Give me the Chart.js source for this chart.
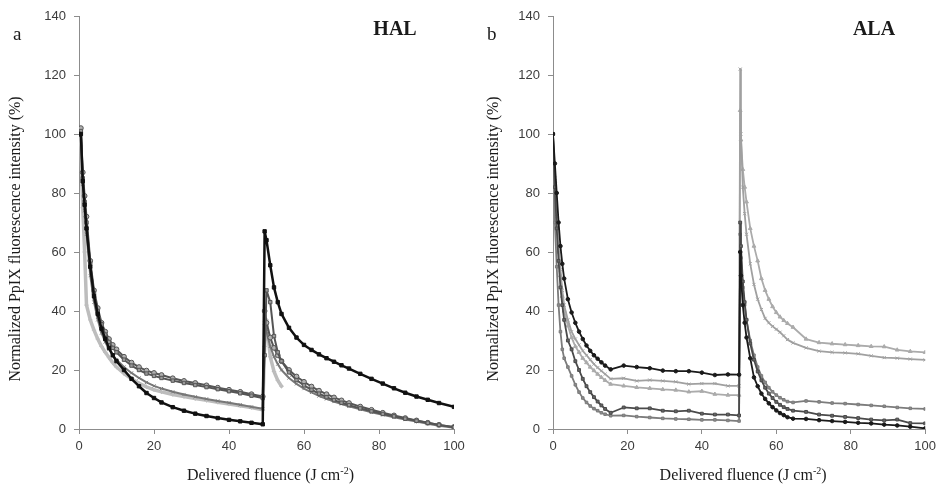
<!DOCTYPE html>
<html>
<head>
<meta charset="utf-8">
<script src="https://cdn.jsdelivr.net/npm/chart.js@4.4.1/dist/chart.umd.min.js"></script>
<style>
  body { margin:0; background:#fff; }
  #wrap { position:relative; width:941px; height:484px; }
  canvas { position:absolute; top:0; }
</style>
</head>
<body>
<div id="wrap">
  <canvas id="hal" width="470" height="484" style="left:0"></canvas>
  <canvas id="ala" width="471" height="484" style="left:470px"></canvas>
</div>
<script>
// ---- axis ticks ----
const xTickValues = [0, 20, 40, 60, 80, 100];
const yTickValues = [0, 20, 40, 60, 80, 100, 120, 140];

// ---- panel a : HAL (fluence in J cm-2, normalized PpIX %) ----
const halFluence = [0,0.5,1,1.5,2,3,4,5,6,7,8,9,10,12,14,16,18,20,22,25,28,31,34,37,40,43,46,49,
  49.5,50,51,52,53,54,56,58,60,62,64,66,68,70,72,75,78,81,84,87,90,93,96,100];
const halBlack = [100,100,84,76,68,55,45,39,34,30.5,27.5,25,23,20,17,14.5,12.2,10.5,9,7.4,6.2,5.2,4.4,3.7,3.1,2.6,2.1,1.6,
  67,64,55.5,48,43,39,34.3,31,28.5,26.8,25.3,24,22.8,21.6,20.5,18.7,17,15.4,13.8,12.3,11,9.9,8.8,7.5];
const halCircles = [100,102,87,79,72,57,47,41,36,33,30.5,28.5,27,24.5,22.5,21,19.8,19,18.3,17.2,16.3,15.6,14.8,14,13.3,12.6,11.8,11,
  40,36,31,27.5,25,23,20,17.8,16,14.4,13,11.8,10.7,9.7,8.8,7.6,6.5,5.5,4.6,3.7,2.9,2.1,1.4,0.7];
const halSquares = [100,101,85,77,70,56,46,40,35.5,32,29.5,27.5,26,23.5,21.5,20,18.8,18,17.3,16.4,15.6,14.9,14.2,13.5,12.8,12.1,11.3,10.5,
  25,47,43,31.5,26,23,19.2,16.6,14.8,13.3,12,10.8,9.8,8.9,8.1,7,6,5.1,4.3,3.5,2.8,2.1,1.4,0.6];
const halGrey = [100,100,83,74,66,52,43,37,32.5,29.5,27,25,23.5,21,19,17.3,15.8,14.6,13.7,12.6,11.7,10.9,10.2,9.5,8.9,8.2,7.5,6.9,
  36,33,28,24.5,22,20,17.3,15.3,13.7,12.4,11.2,10.2,9.3,8.5,7.7,6.7,5.7,4.8,4,3.2,2.5,1.8,1.1,0.4];
const halLight = [100,96,75,60,42,37,33.5,30.5,28,26,24.2,22.5,21,18.8,17,15.5,14.3,13.3,12.6,11.7,11,10.3,9.7,9.1,8.5,7.9,7.3,6.5,
  28,37,24.5,19.5,16.5,14.5,null,null,null,null,null,null,null,null,null,null,null,null,null,null,null,null,null,null];

// ---- panel b : ALA ----
const alaFluence = [0,0.5,1,1.5,2,2.5,3,4,5,6,7,8,9,10,11,12,13,14,15.5,
  19,22.5,26,29.5,33,36.5,40,43.5,47,50,
  50.3,50.5,51,51.5,52,53,54,55,56,57,58,59,60,61,62,63,64.5,
  68,71.5,75,78.5,82,85.5,89,92.5,96,100];
const alaBlack = [100,90,80,70,62,56,51,44,39.5,36,33,30.5,28.3,26.5,25,23.8,22.6,21.5,20.2,
  21.5,21,20.6,19.8,19.6,19.6,19.1,18.3,18.5,18.4,
  60,52,42,36,31,24,17.5,14.5,12,10.2,8.7,7.4,6.3,5.4,4.7,4,3.5,
  3.4,3,2.7,2.4,2.1,1.9,1.5,1.2,0.8,0.2];
const alaCross = [100,85,72,62,54,47,42,37,33,30.5,28.5,26.5,25,23.5,22,20.8,19.7,18.6,17,
  17.2,16.3,16.6,16.3,16,15.2,15.4,15.4,14.6,14.6,
  122,100,82,73,66,56,49,44,40.5,37.5,36,34.8,33.8,32.8,31.6,30.3,29.2,
  27.5,26.4,26,25.8,25.5,24.8,24.2,24,23.7,23.4];
const alaTriangle = [100,84,70,60,52,45,40,35,31,28,26,24,22.5,21,19.8,18.6,17.5,16.5,15.2,
  14.6,14.1,13.8,13.4,13.2,12.6,12.8,11.8,11.5,11.5,
  108,98,88,82,77,68,62,57,51,47,44,41.5,39.5,38,36.8,35.8,34.5,
  30.5,29.3,28.9,28.6,28.3,28,27.9,26.8,26.3,26];
const alaDark = [100,82,68,57,48,42,37,30,27,23,20,17,14.5,12.5,10.8,9.3,8,6.8,5.5,
  7.3,7,7,6.2,6,6.2,5.2,4.9,4.9,4.6,
  70,62,50,43,37,29,23.5,19.5,16.5,14,12,10.5,9.2,8.2,7.4,6.8,6.2,
  5.8,4.9,4.5,4.1,3.7,3.2,2.9,3.2,2,1.9];
const alaGrey = [100,70,55,42,33,27,24,21,18,15,12.5,10.5,9,7.8,6.9,6.2,5.5,5,4.5,
  4.6,4.2,3.9,3.6,3.4,3.3,3.1,3.1,2.9,2.7,
  66,58,48,42,37,30,25,21,18,15.8,14,12.6,11.5,10.6,9.9,9.3,9,
  9.5,9.2,8.8,8.6,8.3,8,7.7,7.3,7,6.8];

const serif = '"Liberation Serif", "Times New Roman", serif';
const sans = '"Liberation Sans", Arial, sans-serif';
const axisGrey = '#8c8c8c';

function series(xs, ys, line, fill, style, r, w) {
  return {
    data: xs.map((x, i) => ({x: x, y: ys[i]})),
    borderColor: line, backgroundColor: fill,
    pointBorderColor: line, pointBackgroundColor: fill,
    pointStyle: style, pointRadius: r, pointBorderWidth: 1,
    borderWidth: w, borderJoinStyle: 'round', borderCapStyle: 'round',
    spanGaps: false, tension: 0
  };
}

// titles, panel letter and drug label
const labelsPlugin = {
  id: 'labels',
  afterDraw(chart, args, o) {
    const ctx = chart.ctx, a = chart.chartArea;
    ctx.save();
    ctx.fillStyle = '#1a1a1a';
    // y title
    ctx.font = '16px ' + serif;
    ctx.textAlign = 'center';
    ctx.textBaseline = 'middle';
    ctx.translate(o.yTitleX, 239);
    ctx.rotate(-Math.PI / 2);
    ctx.fillText('Normalized PpIX fluorescence intensity (%)', 0, 0);
    ctx.setTransform(1, 0, 0, 1, 0, 0);
    // x title with superscript
    const t1 = 'Delivered fluence (J cm', sup = '-2', t2 = ')';
    ctx.textAlign = 'left';
    ctx.textBaseline = 'alphabetic';
    ctx.font = '16px ' + serif;
    const w1 = ctx.measureText(t1).width, w3 = ctx.measureText(t2).width;
    ctx.font = '10px ' + serif;
    const w2 = ctx.measureText(sup).width;
    let x = (a.left + a.right) / 2 + 4 - (w1 + w2 + w3) / 2;
    const base = 480;
    ctx.font = '16px ' + serif;
    ctx.fillText(t1, x, base);
    ctx.font = '10px ' + serif;
    ctx.fillText(sup, x + w1, base - 6);
    ctx.font = '16px ' + serif;
    ctx.fillText(t2, x + w1 + w2, base);
    // panel letter
    ctx.font = '19px ' + serif;
    ctx.fillText(o.letter, o.letterX, 40);
    // drug label
    ctx.font = 'bold 20px ' + serif;
    ctx.textAlign = 'center';
    ctx.fillText(o.label, o.labelX, 35);
    ctx.restore();
  }
};

function makeChart(id, datasets, padRight, yWidth, yTitleX, letter, letterX, label, labelX) {
  return new Chart(document.getElementById(id), {
    type: 'line',
    data: {datasets: datasets},
    plugins: [labelsPlugin],
    options: {
      responsive: false, animation: false, devicePixelRatio: 1,
      layout: {padding: {left: 0, right: padRight, top: 16, bottom: 0}},
      plugins: {
        legend: {display: false}, tooltip: {enabled: false},
        labels: {yTitleX: yTitleX, letter: letter, letterX: letterX, label: label, labelX: labelX}
      },
      scales: {
        x: {
          type: 'linear', min: 0, max: 100,
          afterBuildTicks: s => { s.ticks = xTickValues.map(v => ({value: v})); },
          afterFit: s => { s.height = 55; },
          ticks: {font: {family: sans, size: 13}, color: '#3c3c3c', padding: 5, maxRotation: 0},
          grid: {drawOnChartArea: false, tickLength: 5, color: axisGrey},
          border: {color: axisGrey}
        },
        y: {
          min: 0, max: 140,
          afterBuildTicks: s => { s.ticks = yTickValues.map(v => ({value: v})); },
          afterFit: s => { s.width = yWidth; },
          ticks: {font: {family: sans, size: 13}, color: '#3c3c3c', padding: 8},
          grid: {drawOnChartArea: false, tickLength: 5, color: axisGrey},
          border: {color: axisGrey}
        }
      }
    }
  });
}

makeChart('hal', [
  series(halFluence, halBlack, '#111111', '#111111', 'rect', 2.4, 2.5),
  series(halFluence, halSquares, '#555555', '#9a9a9a', 'rect', 2.4, 2),
  series(halFluence, halCircles, '#555555', '#b0b0b0', 'circle', 2.4, 2),
  series(halFluence, halGrey, '#777777', '#999999', 'crossRot', 2.2, 2),
  series(halFluence, halLight, '#bdbdbd', '#bdbdbd', 'cross', 2.2, 3.5)
], 16, 79, 16, 'a', 13, 'HAL', 395);

makeChart('ala', [
  series(alaFluence, alaBlack, '#1a1a1a', '#1a1a1a', 'circle', 1.8, 1.8),
  series(alaFluence, alaDark, '#4a4a4a', '#666666', 'rect', 2, 1.8),
  series(alaFluence, alaGrey, '#7c7c7c', '#8c8c8c', 'rect', 1.8, 1.8),
  series(alaFluence, alaCross, '#a0a0a0', '#a0a0a0', 'crossRot', 2.2, 1.8),
  series(alaFluence, alaTriangle, '#ababab', '#ababab', 'triangle', 2.2, 1.8)
], 15, 83, 24, 'b', 17, 'ALA', 404);
</script>
</body>
</html>
